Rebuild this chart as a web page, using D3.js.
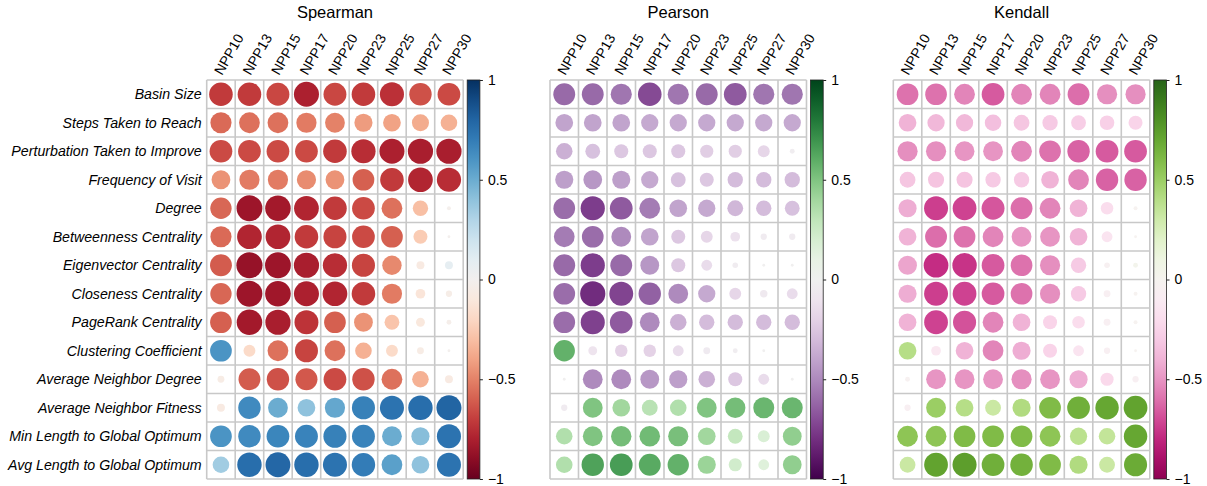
<!DOCTYPE html>
<html>
<head>
<meta charset="utf-8">
<script src="https://cdn.jsdelivr.net/npm/d3@7/dist/d3.min.js"></script>
<style>
  html, body { margin: 0; padding: 0; background: #fff; }
  svg { display: block; }
  text { font-family: Helvetica, "Liberation Sans", Arial, sans-serif; fill: #000; }
</style>
</head>
<body>
<svg id="chart" width="1207" height="486"></svg>
<script>
const rowLabels = ["Basin Size","Steps Taken to Reach","Perturbation Taken to Improve","Frequency of Visit","Degree","Betweenness Centrality","Eigenvector Centrality","Closeness Centrality","PageRank Centrality","Clustering Coefficient","Average Neighbor Degree","Average Neighbor Fitness","Min Length to Global Optimum","Avg Length to Global Optimum"];
const colLabels = ["NPP10","NPP13","NPP15","NPP17","NPP20","NPP23","NPP25","NPP27","NPP30"];
const panelTitles = ["Spearman","Pearson","Kendall"];
const cbTicks = [1, 0.5, 0, -0.5, -1];

const spearman = [
  [-0.71,-0.71,-0.67,-0.80,-0.67,-0.71,-0.74,-0.64,-0.66],
  [-0.57,-0.55,-0.55,-0.52,-0.50,-0.42,-0.40,-0.37,-0.35],
  [-0.66,-0.66,-0.66,-0.66,-0.71,-0.75,-0.80,-0.81,-0.81],
  [-0.45,-0.52,-0.52,-0.47,-0.45,-0.60,-0.71,-0.78,-0.75],
  [-0.58,-0.85,-0.83,-0.78,-0.71,-0.66,-0.55,-0.30,-0.02],
  [-0.57,-0.78,-0.78,-0.71,-0.68,-0.66,-0.60,-0.25,-0.01],
  [-0.61,-0.87,-0.85,-0.81,-0.75,-0.68,-0.48,-0.08, 0.08],
  [-0.58,-0.85,-0.84,-0.80,-0.78,-0.71,-0.52,-0.12,-0.05],
  [-0.60,-0.83,-0.81,-0.73,-0.60,-0.45,-0.28,-0.10,-0.03],
  [ 0.60,-0.18,-0.55,-0.68,-0.55,-0.35,-0.18,-0.06,-0.01],
  [-0.06,-0.61,-0.64,-0.62,-0.66,-0.64,-0.55,-0.35,-0.08],
  [-0.08, 0.64, 0.50, 0.40, 0.52, 0.68, 0.74, 0.76, 0.80],
  [ 0.60, 0.64, 0.66, 0.67, 0.68, 0.67, 0.50, 0.42, 0.74],
  [ 0.35, 0.76, 0.79, 0.76, 0.74, 0.70, 0.55, 0.40, 0.74]
];
const pearson = [
  [-0.61,-0.61,-0.57,-0.71,-0.57,-0.61,-0.66,-0.57,-0.57],
  [-0.40,-0.40,-0.40,-0.38,-0.38,-0.38,-0.38,-0.38,-0.38],
  [-0.35,-0.28,-0.25,-0.25,-0.25,-0.22,-0.22,-0.18,-0.03],
  [-0.42,-0.45,-0.42,-0.38,-0.28,-0.25,-0.30,-0.30,-0.30],
  [-0.60,-0.75,-0.66,-0.55,-0.40,-0.38,-0.32,-0.30,-0.28],
  [-0.55,-0.60,-0.50,-0.40,-0.25,-0.18,-0.12,-0.05,-0.05],
  [-0.61,-0.75,-0.61,-0.45,-0.25,-0.15,-0.04,-0.01,-0.01],
  [-0.60,-0.81,-0.73,-0.64,-0.50,-0.38,-0.18,-0.07,-0.15],
  [-0.60,-0.74,-0.66,-0.50,-0.35,-0.30,-0.30,-0.30,-0.30],
  [ 0.58,-0.10,-0.20,-0.20,-0.15,-0.06,-0.03,-0.01, 0.00],
  [-0.01,-0.50,-0.50,-0.45,-0.42,-0.35,-0.25,-0.15,-0.01],
  [-0.05, 0.50, 0.40, 0.32, 0.35, 0.50, 0.53, 0.56, 0.56],
  [ 0.35, 0.50, 0.53, 0.54, 0.52, 0.40, 0.28, 0.18, 0.45],
  [ 0.35, 0.64, 0.66, 0.61, 0.58, 0.42, 0.22, 0.15, 0.45]
];
const kendall = [
  [-0.60,-0.60,-0.55,-0.66,-0.55,-0.55,-0.61,-0.52,-0.52],
  [-0.40,-0.38,-0.38,-0.35,-0.32,-0.30,-0.28,-0.27,-0.25],
  [-0.52,-0.52,-0.50,-0.50,-0.55,-0.60,-0.64,-0.66,-0.66],
  [-0.32,-0.33,-0.33,-0.30,-0.30,-0.40,-0.55,-0.64,-0.64],
  [-0.42,-0.73,-0.72,-0.67,-0.61,-0.55,-0.40,-0.20,-0.02],
  [-0.40,-0.61,-0.60,-0.55,-0.50,-0.50,-0.40,-0.15,-0.01],
  [-0.45,-0.78,-0.76,-0.66,-0.60,-0.52,-0.30,-0.04, 0.03],
  [-0.42,-0.73,-0.72,-0.66,-0.60,-0.52,-0.30,-0.06,-0.02],
  [-0.40,-0.72,-0.68,-0.55,-0.40,-0.25,-0.20,-0.06,-0.02],
  [ 0.40,-0.12,-0.40,-0.55,-0.42,-0.25,-0.15,-0.05,-0.01],
  [-0.03,-0.50,-0.50,-0.50,-0.52,-0.50,-0.42,-0.22,-0.05],
  [-0.05, 0.50, 0.40, 0.32, 0.42, 0.60, 0.66, 0.70, 0.72],
  [ 0.55, 0.55, 0.60, 0.60, 0.60, 0.55, 0.38, 0.35, 0.70],
  [ 0.32, 0.72, 0.74, 0.66, 0.65, 0.60, 0.42, 0.32, 0.68]
];

const panels = [
  {title: panelTitles[0], data: spearman, interp: d3.interpolateRdBu},
  {title: panelTitles[1], data: pearson, interp: d3.interpolatePRGn},
  {title: panelTitles[2], data: kendall, interp: d3.interpolatePiYG}
];

const svg = d3.select("#chart");
const defs = svg.append("defs");
const cell = 28.5;
const gridTop = 80;
const gridW = cell * colLabels.length;
const gridH = cell * rowLabels.length;
const panelX = [206.7, 550, 893.3];

const y = d3.scaleBand().domain(rowLabels).range([gridTop, gridTop + gridH]);
const r = d3.scaleSqrt().domain([0, 1]).range([0, 14]);

panels.forEach((p, pi) => {
  const x0 = panelX[pi];
  const x = d3.scaleBand().domain(colLabels).range([x0, x0 + gridW]);
  const color = d3.scaleSequential(p.interp).domain([-1, 1]);
  const g = svg.append("g");

  g.append("text")
    .attr("x", x0 + gridW / 2).attr("y", 18)
    .attr("text-anchor", "middle")
    .style("font-size", "16.5px")
    .text(p.title);

  const cells = [];
  p.data.forEach((row, ri) => row.forEach((v, ci) => cells.push({row: rowLabels[ri], col: colLabels[ci], v})));

  g.append("rect")
    .attr("x", x0).attr("y", gridTop).attr("width", gridW).attr("height", gridH)
    .attr("fill", "#fff");

  const gl = g.append("g").attr("stroke", "#c8c8c8").attr("stroke-width", 1.6).attr("fill", "none");
  d3.range(colLabels.length + 1).forEach(i => {
    const xx = x0 + i * x.bandwidth();
    gl.append("line").attr("x1", xx).attr("x2", xx).attr("y1", gridTop).attr("y2", gridTop + gridH);
  });
  d3.range(rowLabels.length + 1).forEach(i => {
    const yy = gridTop + i * y.bandwidth();
    gl.append("line").attr("x1", x0).attr("x2", x0 + gridW).attr("y1", yy).attr("y2", yy);
  });

  g.selectAll("circle.c").data(cells).join("circle")
    .attr("class", "c")
    .attr("cx", d => x(d.col) + x.bandwidth() / 2)
    .attr("cy", d => y(d.row) + y.bandwidth() / 2)
    .attr("r", d => r(Math.abs(d.v)))
    .attr("fill", d => color(d.v));

  g.selectAll("text.col").data(colLabels).join("text")
    .attr("class", "col")
    .attr("transform", d => `translate(${x(d) + x.bandwidth() / 2 + 1},${gridTop - 4}) rotate(-60)`)
    .attr("text-anchor", "start")
    .style("font-size", "14px")
    .text(d => d);

  if (pi === 0) {
    g.selectAll("text.row").data(rowLabels).join("text")
      .attr("class", "row")
      .attr("x", x0 - 5)
      .attr("y", d => y(d) + y.bandwidth() / 2)
      .attr("dy", "0.35em")
      .attr("text-anchor", "end")
      .style("font-size", "14.2px")
      .style("font-style", "italic")
      .text(d => d);
  }

  const cbX = x0 + gridW + 4;
  const cbW = 12.7;
  const cbScale = d3.scaleLinear().domain([-1, 1]).range([gridTop + gridH, gridTop]);
  const gid = "grad" + pi;
  const grad = defs.append("linearGradient").attr("id", gid)
    .attr("x1", "0").attr("y1", "1").attr("x2", "0").attr("y2", "0");
  d3.range(0, 1.0001, 0.05).forEach(t => {
    grad.append("stop").attr("offset", t).attr("stop-color", p.interp(t));
  });
  g.append("rect")
    .attr("x", cbX).attr("y", gridTop).attr("width", cbW).attr("height", gridH)
    .attr("fill", `url(#${gid})`)
    .attr("stroke", "#222").attr("stroke-width", 0.8);

  const axis = d3.axisRight(cbScale).tickValues(cbTicks).tickSize(3).tickPadding(5)
    .tickFormat(d => d === 0 ? "0" : (d < 0 ? "\u2212" + Math.abs(d) : String(d)));
  const ag = g.append("g").attr("transform", `translate(${cbX + cbW},0)`).call(axis);
  ag.select(".domain").remove();
  ag.selectAll(".tick line").attr("stroke", "#222");
  ag.selectAll(".tick text").style("font-size", "14px").attr("fill", "#000");
});
</script>
</body>
</html>
